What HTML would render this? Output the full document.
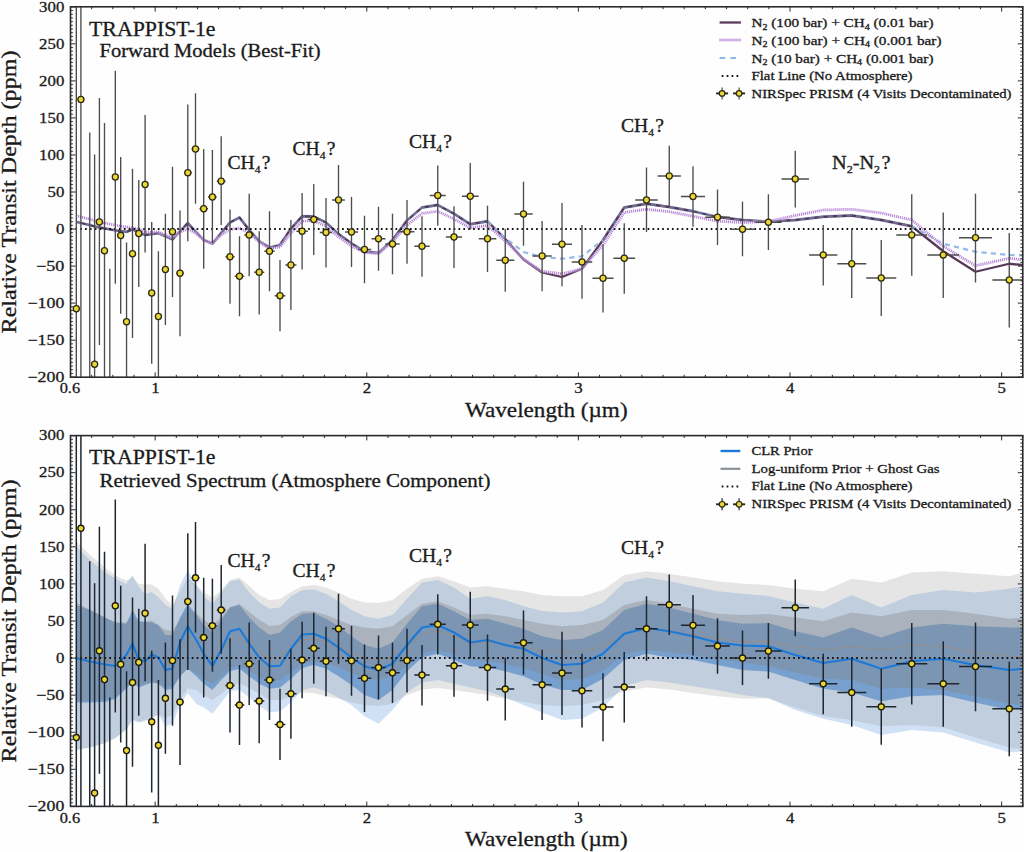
<!DOCTYPE html>
<html><head><meta charset="utf-8"><title>TRAPPIST-1e spectrum</title>
<style>html,body{margin:0;padding:0;background:#fefefe;width:1024px;height:852px;overflow:hidden;font-family:"Liberation Serif",serif}text{stroke:#1a1a1a;stroke-width:.3px}</style></head>
<body>
<svg width="1024" height="852" viewBox="0 0 1024 852" style="position:absolute;left:0;top:0;font-family:'Liberation Serif',serif">
<defs><clipPath id="c1"><rect x="70.5" y="6.8" width="952.3" height="370.4"/></clipPath><clipPath id="c2"><rect x="70.5" y="435.6" width="952.3" height="370.8"/></clipPath></defs>
<rect width="1024" height="852" fill="#fefefe"/>
<g clip-path="url(#c1)">
<path d="M76.3,221.9L80.9,223L89.75,225.2L94.6,226.4L99.4,227.5L104.5,228.4L109.8,229.3L115.3,230.3L120.7,231.25L126.55,231.9L132.5,229.4L138.75,232.2L145.1,235L151.7,234L158.4,233.1L165.4,236.2L172.5,239.4L180,231.3L187.8,223.1L195.5,231.5L203.7,240L212.4,243.75L221.2,233L230,222.5L239.5,217.5L249.2,230L259.2,241.25L269.5,247.5L280,245L290.9,228.75L302.1,216.25L313.75,216.5L326,222.5L338.5,234L351.5,243.5L364.5,251.5L378.5,253L392.5,240L407,220.5L422,207.5L437.75,205L454,213.75L470.25,224.25L487.5,221.25M603,240L624.25,207.5L646.5,203.75L669.25,207L693,211.25L717.5,217L742.5,220L768.4,221.75L795.25,220L823.25,216.75L851.75,215.5L881.25,220L911.75,226.25" fill="none" stroke="#8db7e6" stroke-width="3.4" stroke-linejoin="round" stroke-opacity="0.35"/>
<path d="M76.3,221.9 L80.9,223 L89.75,225.2 L94.6,226.4 L99.4,227.5 L104.5,228.4 L109.8,229.3 L115.3,230.3 L120.7,231.25 L126.55,231.9 L132.5,229.4 L138.75,232.2 L145.1,235 L151.7,234 L158.4,233.1 L165.4,236.2 L172.5,239.4 L180,231.3 L187.8,223.1 L195.5,231.5 L203.7,240 L212.4,243.75 L221.2,233 L230,222.5 L239.5,217.5 L249.2,230 L259.2,241.25 L269.5,247.5 L280,245 L290.9,228.75 L302.1,216.25 L313.75,216.5 L326,222.5 L338.5,234 L351.5,243.5 L364.5,251.5 L378.5,253 L392.5,240 L407,220.5 L422,207.5 L437.75,205 L454,213.75 L470.25,224.25 L487.5,221.25 L505.25,239 L523.5,259.5 L542.1,272.5 L562,277 L582,268.75 L603,240 L624.25,207.5 L646.5,203.75 L669.25,207 L693,211.25 L717.5,217 L742.5,220 L768.4,221.75 L795.25,220 L823.25,216.75 L851.75,215.5 L881.25,220 L911.75,226.25 L943.25,251.25 L975.5,271.75 L1009.25,263.75 L1022.8,265" fill="none" stroke="#573858" stroke-width="2.3" stroke-linejoin="round"/>
<path d="M76.3,221.9L80.9,223L89.75,225.2L94.6,226.4L99.4,227.5L104.5,228.4L109.8,229.3L115.3,230.3L120.7,231.25L126.55,231.9L132.5,229.4L138.75,232.2L145.1,235L151.7,234L158.4,233.1L165.4,236.2L172.5,239.4L180,231.3L187.8,223.1L195.5,231.5L203.7,240L212.4,243.75L221.2,233L230,222.5L239.5,217.5L249.2,230L259.2,241.25L269.5,247.5L280,245L290.9,228.75L302.1,216.25L313.75,216.5L326,222.5L338.5,234L351.5,243.5L364.5,251.5L378.5,253L392.5,240L407,220.5L422,207.5L437.75,205L454,213.75L470.25,224.25L487.5,221.25M603,240L624.25,207.5L646.5,203.75L669.25,207L693,211.25L717.5,217L742.5,220L768.4,221.75L795.25,220L823.25,216.75L851.75,215.5L881.25,220L911.75,226.25" fill="none" stroke="#8db7e6" stroke-width="2.2" stroke-dasharray="5.2 4.2" stroke-linejoin="round" stroke-opacity="0.42"/>
<path d="M487.5,221.25L505.25,238L523.5,252L542.1,257L562,258.75L582,256.25L603,240M911.75,226.25L943.25,243.75L975.5,251.75L1009.25,255L1022.8,255.5" fill="none" stroke="#8db7e6" stroke-width="2.2" stroke-dasharray="5.2 4.2" stroke-linejoin="round" stroke-opacity="0.95"/>
<path d="M76.3,215.6 L99.4,221.9 L120.7,226.25 L138.75,229 L145.1,232 L151.7,232 L158.4,232 L165.4,235 L172.5,237.5 L180,232 L187.8,228.75 L195.5,233 L203.7,240 L212.4,243 L221.2,235 L230,229.5 L239.5,228 L249.2,233 L259.2,242 L269.5,248.5 L280,247 L290.9,233 L302.1,221 L313.75,221 L326,226 L338.5,237 L351.5,246 L364.5,252.5 L378.5,253.5 L392.5,242 L407,225 L422,213.5 L437.75,211.25 L454,219 L470.25,228 L487.5,225.5 L505.25,241 L523.5,259 L542.1,271.25 L562,273.75 L582,268.75 L603,245 L624.25,212.5 L646.5,209.25 L669.25,211.75 L693,216.25 L717.5,221.25 L742.5,222.5 L768.4,221.5 L795.25,215.5 L823.25,210 L851.75,209.25 L881.25,213 L911.75,220 L943.25,246.25 L975.5,265.75 L1009.25,258.25 L1022.8,260" fill="none" stroke="#eadcf4" stroke-width="3" stroke-linejoin="round" stroke-opacity="0.45"/>
<path d="M76.3,215.6 L99.4,221.9 L120.7,226.25 L138.75,229 L145.1,232 L151.7,232 L158.4,232 L165.4,235 L172.5,237.5 L180,232 L187.8,228.75 L195.5,233 L203.7,240 L212.4,243 L221.2,235 L230,229.5 L239.5,228 L249.2,233 L259.2,242 L269.5,248.5 L280,247 L290.9,233 L302.1,221 L313.75,221 L326,226 L338.5,237 L351.5,246 L364.5,252.5 L378.5,253.5 L392.5,242 L407,225 L422,213.5 L437.75,211.25 L454,219 L470.25,228 L487.5,225.5 L505.25,241 L523.5,259 L542.1,271.25 L562,273.75 L582,268.75 L603,245 L624.25,212.5 L646.5,209.25 L669.25,211.75 L693,216.25 L717.5,221.25 L742.5,222.5 L768.4,221.5 L795.25,215.5 L823.25,210 L851.75,209.25 L881.25,213 L911.75,220 L943.25,246.25 L975.5,265.75 L1009.25,258.25 L1022.8,260" fill="none" stroke="#a262cf" stroke-width="2.7" stroke-dasharray="0.85 1.15" stroke-linejoin="round" stroke-opacity="0.9"/>
<path d="M70.5,229.1H1022.8" stroke="#111" stroke-width="2" stroke-dasharray="1.7 3.15"/>
</g>
<g clip-path="url(#c1)" stroke="#4d4d4d" stroke-width="1.35" fill="none"><path d="M76.3,-50V900M74,308.75H78.6M80.9,-50V900M77.54,99.5H84.26M89.75,132.5V900M94.6,154.5V900M92.19,364.25H97.01M99.4,98V345M96.93,222H101.88M104.5,123V900M101.9,250.75H107.1M109.8,268.75V900M115.3,70.75V283.75M112.57,177H118.03M120.7,157V313.75M117.89,235.5H123.51M126.55,242.5V900M123.6,321.75H129.5M132.5,168.75V338M129.45,253.75H135.55M138.75,180V287M135.6,233.5H141.9M145.1,115V252.5M141.86,184.5H148.34M151.7,222V363.75M148.38,293H155.02M158.4,251.25V900M154.97,316.5H161.83M165.4,213.75V325M161.88,269.5H168.93M172.5,166.75V297M168.85,231.75H176.15M180,210.5V336.25M176.18,273.25H183.82M187.8,104.5V241.25M183.93,172.75H191.68M195.5,93.25V203.75M191.53,149H199.47M203.7,149V268.75M199.47,208.75H207.92M212.4,150V243M208.03,197H216.78M221.2,136.25V225M216.8,181.25H225.6M230,209.5V303.75M225.43,256.75H234.57M239.5,236.25V316.25M234.7,276.25H244.3M249.2,193.75V276.25M244.27,235H254.12M259.2,231.25V314.5M254.12,272.25H264.27M269.5,211.25V291.25M264.3,251.25H274.7M280,260V331.25M274.65,295.75H285.35M290.9,220V310M285.38,265H296.42M302.1,193V269.5M296.39,231.25H307.81M313.75,184V255M307.77,219.5H319.73M326,198V267.5M319.81,232.5H332.19M338.5,165V235M332.12,200H344.88M351.5,197V267M345,232H358M364.5,215.75V283.25M357.75,249.5H371.25M378.5,206.75V270.75M371.5,238.75H385.5M392.5,213.75V274.25M385.38,244H399.62M407,200V263.75M399.62,231.75H414.38M422,216.25V276.75M414.31,246.25H429.69M437.75,165.5V225.75M429.75,195.5H445.75M454,206.25V268M445.88,237H462.12M470.25,163V229.5M461.88,196.25H478.62M487.5,205.75V272M478.75,238.75H496.25M505.25,228.75V291.75M496.25,260.25H514.25M523.5,181.75V245.75M514.29,214H532.71M542.1,221V291.25M532.48,256H551.73M562,203V286.25M552.02,244.25H571.98M582,225V298.75M571.75,262H592.25M603,244.5V312.5M592.44,278.25H613.56M624.25,223.25V293.75M613.38,258.25H635.12M646.5,167.5V232M635.25,200H657.75M669.25,145.75V206.25M657.62,176H680.88M693,166.25V226.75M680.94,196.5H705.06M717.5,189.5V245M705.12,217.25H729.88M742.5,201.75V256.25M729.77,229.25H755.23M768.4,194.25V250M755.21,222.25H781.59M795.25,150.75V207.5M781.54,179H808.96M823.25,225V285.5M809.12,255H837.38M851.75,230V298M837.25,263.75H866.25M881.25,240V316M866.25,278H896.25M911.75,194.25V275.75M896.25,235H927.25M943.25,212.5V298M927.31,255H959.19M975.5,193.75V282.5M959,237.75H992M1009.25,233V327.5M992.38,280H1026.12"/></g>
<g clip-path="url(#c1)" fill="#ead637" stroke="#2e2a10" stroke-width="1.3"><circle cx="76.3" cy="308.75" r="3.05"/><circle cx="80.9" cy="99.5" r="3.05"/><circle cx="94.6" cy="364.25" r="3.05"/><circle cx="99.4" cy="222" r="3.05"/><circle cx="104.5" cy="250.75" r="3.05"/><circle cx="115.3" cy="177" r="3.05"/><circle cx="120.7" cy="235.5" r="3.05"/><circle cx="126.55" cy="321.75" r="3.05"/><circle cx="132.5" cy="253.75" r="3.05"/><circle cx="138.75" cy="233.5" r="3.05"/><circle cx="145.1" cy="184.5" r="3.05"/><circle cx="151.7" cy="293" r="3.05"/><circle cx="158.4" cy="316.5" r="3.05"/><circle cx="165.4" cy="269.5" r="3.05"/><circle cx="172.5" cy="231.75" r="3.05"/><circle cx="180" cy="273.25" r="3.05"/><circle cx="187.8" cy="172.75" r="3.05"/><circle cx="195.5" cy="149" r="3.05"/><circle cx="203.7" cy="208.75" r="3.05"/><circle cx="212.4" cy="197" r="3.05"/><circle cx="221.2" cy="181.25" r="3.05"/><circle cx="230" cy="256.75" r="3.05"/><circle cx="239.5" cy="276.25" r="3.05"/><circle cx="249.2" cy="235" r="3.05"/><circle cx="259.2" cy="272.25" r="3.05"/><circle cx="269.5" cy="251.25" r="3.05"/><circle cx="280" cy="295.75" r="3.05"/><circle cx="290.9" cy="265" r="3.05"/><circle cx="302.1" cy="231.25" r="3.05"/><circle cx="313.75" cy="219.5" r="3.05"/><circle cx="326" cy="232.5" r="3.05"/><circle cx="338.5" cy="200" r="3.05"/><circle cx="351.5" cy="232" r="3.05"/><circle cx="364.5" cy="249.5" r="3.05"/><circle cx="378.5" cy="238.75" r="3.05"/><circle cx="392.5" cy="244" r="3.05"/><circle cx="407" cy="231.75" r="3.05"/><circle cx="422" cy="246.25" r="3.05"/><circle cx="437.75" cy="195.5" r="3.05"/><circle cx="454" cy="237" r="3.05"/><circle cx="470.25" cy="196.25" r="3.05"/><circle cx="487.5" cy="238.75" r="3.05"/><circle cx="505.25" cy="260.25" r="3.05"/><circle cx="523.5" cy="214" r="3.05"/><circle cx="542.1" cy="256" r="3.05"/><circle cx="562" cy="244.25" r="3.05"/><circle cx="582" cy="262" r="3.05"/><circle cx="603" cy="278.25" r="3.05"/><circle cx="624.25" cy="258.25" r="3.05"/><circle cx="646.5" cy="200" r="3.05"/><circle cx="669.25" cy="176" r="3.05"/><circle cx="693" cy="196.5" r="3.05"/><circle cx="717.5" cy="217.25" r="3.05"/><circle cx="742.5" cy="229.25" r="3.05"/><circle cx="768.4" cy="222.25" r="3.05"/><circle cx="795.25" cy="179" r="3.05"/><circle cx="823.25" cy="255" r="3.05"/><circle cx="851.75" cy="263.75" r="3.05"/><circle cx="881.25" cy="278" r="3.05"/><circle cx="911.75" cy="235" r="3.05"/><circle cx="943.25" cy="255" r="3.05"/><circle cx="975.5" cy="237.75" r="3.05"/><circle cx="1009.25" cy="280" r="3.05"/></g>
<g clip-path="url(#c2)">
<path d="M76.25,546.25 L90,560 L105,572.5 L115.5,578.75 L126.25,584 L132.5,575 L138.75,587 L145.25,594 L151.75,592 L158.25,597 L165.5,605 L172.5,609 L180,585 L187.75,570.5 L196.25,585 L203.75,596.25 L212.5,603.75 L221.25,592.5 L230,581.25 L239.5,579.5 L249.25,592.5 L259.25,602.5 L269.5,608.75 L280,607.5 L291,596.25 L302.25,590 L313.75,589.5 L326,593.75 L338.5,601.25 L351.5,610 L364.5,616.25 L378.5,618.75 L392.5,615 L407,598.75 L422,582.5 L437.75,580 L454,587.5 L470.25,598.75 L487.5,596.25 L505.25,600 L523.5,606.25 L542.1,611 L562,612.5 L582,611.25 L603,602.5 L624.25,582.5 L646.5,577.5 L669.25,581.25 L693,586.25 L717.5,591.25 L742.5,593.75 L768.4,596 L795.25,602.5 L823.25,608.75 L851.75,595 L881.25,607.5 L911.75,595 L943.25,590 L975.5,592.5 L1009.25,588.75 L1022.8,586.25 L1022.8,751.25 L1009.25,752.5 L975.5,742.5 L943.25,732.5 L911.75,730 L881.25,735 L851.75,725 L823.25,718.75 L795.25,710 L768.4,698 L742.5,695 L717.5,690 L693,686.25 L669.25,682.5 L646.5,680 L624.25,686.25 L603,707.5 L582,718.75 L562,720 L542.1,712.5 L523.5,705 L505.25,697.5 L487.5,691.25 L470.25,687.5 L454,683.75 L437.75,680 L422,682.5 L407,692.5 L392.5,710 L378.5,723.75 L364.5,716.25 L351.5,705 L338.5,697.5 L326,691.25 L313.75,687.5 L302.25,690 L291,702.5 L280,711.25 L269.5,712.5 L259.25,706.25 L249.25,697.5 L239.5,690 L230,691.25 L221.25,702.5 L212.5,713.75 L203.75,707.5 L196.25,703.75 L187.75,693 L180,705 L172.5,723.5 L165.5,726.5 L158.25,714.5 L151.75,718 L145.25,721 L138.75,722.5 L132.5,720 L126.25,729.5 L115.5,738 L105,743 L90,747.5 L76.25,750Z" fill="#1b70d0" fill-opacity="0.2"/>
<path d="M76.25,605 L90,610 L105,617.5 L115.5,622.5 L126.25,623.75 L132.5,610 L138.75,621.25 L145.25,622 L151.75,622.5 L158.25,625 L165.5,635 L172.5,635 L180,617.5 L187.75,603.75 L196.25,615 L203.75,625 L212.5,632.5 L221.25,620 L230,607.5 L239.5,605 L249.25,617.5 L259.25,627.5 L269.5,635 L280,632.5 L291,621.25 L302.25,613.75 L313.75,613 L326,618.75 L338.5,626.25 L351.5,636.25 L364.5,645 L378.5,648.75 L392.5,642.5 L407,623.75 L422,606.25 L437.75,603.75 L454,611.25 L470.25,620 L487.5,618.75 L505.25,623.75 L523.5,628.75 L542.1,636.25 L562,640 L582,638.75 L603,630 L624.25,610 L646.5,603.75 L669.25,607.5 L693,613.75 L717.5,620 L742.5,623.75 L768.4,623 L795.25,631.25 L823.25,637.5 L851.75,627.5 L881.25,637.5 L911.75,627.5 L943.25,623.75 L975.5,626.25 L1009.25,627.5 L1022.8,627.5 L1022.8,707.5 L1009.25,710 L975.5,702.5 L943.25,695 L911.75,696.25 L881.25,701.25 L851.75,692.5 L823.25,688.75 L795.25,680 L768.4,671.5 L742.5,670 L717.5,665 L693,660 L669.25,657.5 L646.5,653.75 L624.25,660 L603,678.75 L582,690 L562,690 L542.1,684.5 L523.5,676.25 L505.25,671.25 L487.5,667.5 L470.25,666.25 L454,660 L437.75,653.75 L422,657.5 L407,671.25 L392.5,690 L378.5,700 L364.5,695 L351.5,685 L338.5,676.25 L326,668.75 L313.75,665 L302.25,668 L291,678.75 L280,687.5 L269.5,688.75 L259.25,683.75 L249.25,676.25 L239.5,668.75 L230,671.25 L221.25,680 L212.5,690 L203.75,683.75 L196.25,676.25 L187.75,668.75 L180,676.25 L172.5,688.75 L165.5,690 L158.25,683.75 L151.75,682.5 L145.25,685 L138.75,687.5 L132.5,682.5 L126.25,688.5 L115.5,698.75 L105,702 L90,702.5 L76.25,702.5Z" fill="#1b70d0" fill-opacity="0.5"/>
<path d="M76.25,541 L90,555 L105,567.5 L115.5,575.5 L126.25,580.5 L132.5,577 L138.75,584 L151.75,584.5 L158.25,588.75 L165.5,598.75 L172.5,605 L180,592 L187.75,578 L196.25,585 L203.75,592 L212.5,598 L221.25,590 L230,580 L239.5,577.5 L249.25,586 L259.25,595 L269.5,600 L280,599 L291,592 L302.25,586.25 L313.75,585 L326,587.5 L338.5,592.5 L351.5,598.75 L364.5,602.5 L378.5,603 L392.5,600 L407,588.75 L422,578.75 L437.75,576.25 L454,581.25 L470.25,587.5 L487.5,586.25 L505.25,588.75 L523.5,591.25 L542.1,595 L562,596.25 L582,596.25 L603,590 L624.25,575 L646.5,571.25 L669.25,573.75 L693,577.5 L717.5,581.25 L742.5,583.75 L768.4,585 L795.25,588.75 L823.25,591.25 L851.75,578.75 L881.25,582.5 L911.75,572.5 L943.25,571.25 L975.5,573.75 L1009.25,576.25 L1022.8,572.5 L1022.8,750 L1009.25,747.5 L975.5,737.5 L943.25,727.5 L911.75,725 L881.25,726.25 L851.75,720 L823.25,716.25 L795.25,707.5 L768.4,698.5 L742.5,698.75 L717.5,696.25 L693,693 L669.25,689.5 L646.5,687.5 L624.25,691.25 L603,700 L582,705 L562,706 L542.1,705 L523.5,702 L505.25,698.75 L487.5,695 L470.25,692.5 L454,690 L437.75,688 L422,689.5 L407,695 L392.5,703.75 L378.5,706 L364.5,705 L351.5,702.5 L338.5,698.75 L326,696.25 L313.75,693 L302.25,692.5 L291,696 L280,700 L269.5,700 L259.25,694 L249.25,688 L239.5,683 L230,686 L221.25,694 L212.5,700 L203.75,695 L196.25,690 L187.75,688 L180,700 L172.5,715 L165.5,718 L158.25,714.5 L151.75,718 L138.75,722 L132.5,719 L126.25,729.5 L115.5,738 L105,743 L90,747.5 L76.25,750Z" fill="#808080" fill-opacity="0.2"/>
<path d="M76.25,602.5 L90,610 L105,617.5 L115.5,622.5 L126.25,622.5 L132.5,616 L138.75,622.5 L151.75,620.6 L158.25,625 L165.5,630 L172.5,631 L180,620 L187.75,608 L196.25,613 L203.75,620 L212.5,625 L221.25,617 L230,607 L239.5,604 L249.25,612 L259.25,620 L269.5,626 L280,625 L291,617 L302.25,611.25 L313.75,611.25 L326,615 L338.5,620 L351.5,625 L364.5,627.5 L378.5,628.75 L392.5,626.25 L407,615 L422,603.75 L437.75,601.25 L454,607.5 L470.25,615 L487.5,613.75 L505.25,616.25 L523.5,620 L542.1,623.75 L562,626.25 L582,625 L603,620 L624.25,605 L646.5,600 L669.25,603.75 L693,608.75 L717.5,613.75 L742.5,615 L768.4,614 L795.25,617.5 L823.25,621.25 L851.75,612.5 L881.25,616.25 L911.75,610 L943.25,610 L975.5,613.75 L1009.25,618.75 L1022.8,617.5 L1022.8,705 L1009.25,703.75 L975.5,696.25 L943.25,690 L911.75,687.5 L881.25,688.75 L851.75,680 L823.25,678.75 L795.25,672.5 L768.4,666 L742.5,662.5 L717.5,659 L693,655 L669.25,652 L646.5,650 L624.25,654 L603,671 L582,679 L562,680 L542.1,674 L523.5,668 L505.25,664 L487.5,661 L470.25,660 L454,655 L437.75,650 L422,654 L407,666 L392.5,676 L378.5,680 L364.5,678 L351.5,673 L338.5,667 L326,663 L313.75,662 L302.25,664 L291,672 L280,680 L269.5,681 L259.25,677 L249.25,671 L239.5,665 L230,668 L221.25,677 L212.5,684 L203.75,679 L196.25,673 L187.75,668 L180,676 L172.5,686 L165.5,687 L158.25,683 L151.75,682 L138.75,686 L132.5,682 L126.25,687.5 L115.5,697 L105,700 L90,701 L76.25,701Z" fill="#808080" fill-opacity="0.35"/>
<path d="M76.25,656 L90,658 L105,660 L115.5,661 L126.25,658 L132.5,653 L138.75,659 L151.75,656 L158.25,658 L165.5,663 L172.5,663 L180,650 L187.75,640 L196.25,646 L203.75,653 L212.5,659 L221.25,650 L230,640 L239.5,637 L249.25,645 L259.25,653 L269.5,658 L280,657 L291,648 L302.25,640 L313.75,639 L326,642 L338.5,647 L351.5,653 L364.5,658 L378.5,660 L392.5,657 L407,646 L422,634 L437.75,631 L454,636 L470.25,643 L487.5,642 L505.25,645 L523.5,648 L542.1,650 L562,652.5 L582,651.25 L603,647 L624.25,634 L646.5,628.5 L669.25,631 L693,634.5 L717.5,638.75 L742.5,641.25 L768.4,641.25 L795.25,646.25 L823.25,650 L851.75,646.25 L881.25,650 L911.75,645 L943.25,646.25 L975.5,652.5 L1009.25,656.25 L1022.8,657" fill="none" stroke="#8b9097" stroke-width="1.5" stroke-linejoin="round"/>
<path d="M76.25,658 L90,661.5 L105,664.5 L115.5,666 L126.25,655 L132.5,643.75 L138.75,660 L145.25,661.25 L151.75,654.5 L158.25,657.5 L165.5,670 L172.5,668.5 L180,642.5 L187.75,626.25 L196.25,640 L203.75,653.75 L212.5,666 L221.25,650 L230,631.25 L239.5,628.75 L249.25,643.75 L259.25,657.5 L269.5,666.25 L280,665.75 L291,648.75 L302.25,634.5 L313.75,633.75 L326,638.75 L338.5,647.5 L351.5,657.5 L364.5,666.25 L378.5,670 L392.5,663.75 L407,645 L422,627.5 L437.75,625 L454,632.5 L470.25,642.5 L487.5,640 L505.25,645 L523.5,648.75 L542.1,658 L562,665 L582,663.75 L603,653.75 L624.25,633.75 L646.5,628 L669.25,631.25 L693,636.25 L717.5,642.5 L742.5,645.5 L768.4,646.25 L795.25,655 L823.25,663 L851.75,658.75 L881.25,668.75 L911.75,661.25 L943.25,658.75 L975.5,665 L1009.25,670 L1022.8,668.75" fill="none" stroke="#1b7ad8" stroke-width="2.1" stroke-linejoin="round"/>
<path d="M70.5,658.1H1022.8" stroke="#111" stroke-width="2" stroke-dasharray="1.7 3.15"/>
</g>
<g clip-path="url(#c2)" stroke="#1e2630" stroke-width="1.5" fill="none"><path d="M76.3,378.8V1328.8M74,737.55H78.6M80.9,378.8V1328.8M77.54,528.3H84.26M89.75,561.3V1328.8M94.6,583.3V1328.8M92.19,793.05H97.01M99.4,526.8V773.8M96.93,650.8H101.88M104.5,551.8V1328.8M101.9,679.55H107.1M109.8,697.55V1328.8M115.3,499.55V712.55M112.57,605.8H118.03M120.7,585.8V742.55M117.89,664.3H123.51M126.55,671.3V1328.8M123.6,750.55H129.5M132.5,597.55V766.8M129.45,682.55H135.55M138.75,608.8V715.8M135.6,662.3H141.9M145.1,543.8V681.3M141.86,613.3H148.34M151.7,650.8V792.55M148.38,721.8H155.02M158.4,680.05V1328.8M154.97,745.3H161.83M165.4,642.55V753.8M161.88,698.3H168.93M172.5,595.55V725.8M168.85,660.55H176.15M180,639.3V765.05M176.18,702.05H183.82M187.8,533.3V670.05M183.93,601.55H191.68M195.5,522.05V632.55M191.53,577.8H199.47M203.7,577.8V697.55M199.47,637.55H207.92M212.4,578.8V671.8M208.03,625.8H216.78M221.2,565.05V653.8M216.8,610.05H225.6M230,638.3V732.55M225.43,685.55H234.57M239.5,665.05V745.05M234.7,705.05H244.3M249.2,622.55V705.05M244.27,663.8H254.12M259.2,660.05V743.3M254.12,701.05H264.27M269.5,640.05V720.05M264.3,680.05H274.7M280,688.8V760.05M274.65,724.55H285.35M290.9,648.8V738.8M285.38,693.8H296.42M302.1,621.8V698.3M296.39,660.05H307.81M313.75,612.8V683.8M307.77,648.3H319.73M326,626.8V696.3M319.81,661.3H332.19M338.5,593.8V663.8M332.12,628.8H344.88M351.5,625.8V695.8M345,660.8H358M364.5,644.55V712.05M357.75,678.3H371.25M378.5,635.55V699.55M371.5,667.55H385.5M392.5,642.55V703.05M385.38,672.8H399.62M407,628.8V692.55M399.62,660.55H414.38M422,645.05V705.55M414.31,675.05H429.69M437.75,594.3V654.55M429.75,624.3H445.75M454,635.05V696.8M445.88,665.8H462.12M470.25,591.8V658.3M461.88,625.05H478.62M487.5,634.55V700.8M478.75,667.55H496.25M505.25,657.55V720.55M496.25,689.05H514.25M523.5,610.55V674.55M514.29,642.8H532.71M542.1,649.8V720.05M532.48,684.8H551.73M562,631.8V715.05M552.02,673.05H571.98M582,653.8V727.55M571.75,690.8H592.25M603,673.3V741.3M592.44,707.05H613.56M624.25,652.05V722.55M613.38,687.05H635.12M646.5,596.3V660.8M635.25,628.8H657.75M669.25,574.55V635.05M657.62,604.8H680.88M693,595.05V655.55M680.94,625.3H705.06M717.5,618.3V673.8M705.12,646.05H729.88M742.5,630.55V685.05M729.77,658.05H755.23M768.4,623.05V678.8M755.21,651.05H781.59M795.25,579.55V636.3M781.54,607.8H808.96M823.25,653.8V714.3M809.12,683.8H837.38M851.75,658.8V726.8M837.25,692.55H866.25M881.25,668.8V744.8M866.25,706.8H896.25M911.75,623.05V704.55M896.25,663.8H927.25M943.25,641.3V726.8M927.31,683.8H959.19M975.5,622.55V711.3M959,666.55H992M1009.25,661.8V756.3M992.38,708.8H1026.12"/></g>
<g clip-path="url(#c2)" fill="#ead637" stroke="#1c1a08" stroke-width="1.3"><circle cx="76.3" cy="737.55" r="3.05"/><circle cx="80.9" cy="528.3" r="3.05"/><circle cx="94.6" cy="793.05" r="3.05"/><circle cx="99.4" cy="650.8" r="3.05"/><circle cx="104.5" cy="679.55" r="3.05"/><circle cx="115.3" cy="605.8" r="3.05"/><circle cx="120.7" cy="664.3" r="3.05"/><circle cx="126.55" cy="750.55" r="3.05"/><circle cx="132.5" cy="682.55" r="3.05"/><circle cx="138.75" cy="662.3" r="3.05"/><circle cx="145.1" cy="613.3" r="3.05"/><circle cx="151.7" cy="721.8" r="3.05"/><circle cx="158.4" cy="745.3" r="3.05"/><circle cx="165.4" cy="698.3" r="3.05"/><circle cx="172.5" cy="660.55" r="3.05"/><circle cx="180" cy="702.05" r="3.05"/><circle cx="187.8" cy="601.55" r="3.05"/><circle cx="195.5" cy="577.8" r="3.05"/><circle cx="203.7" cy="637.55" r="3.05"/><circle cx="212.4" cy="625.8" r="3.05"/><circle cx="221.2" cy="610.05" r="3.05"/><circle cx="230" cy="685.55" r="3.05"/><circle cx="239.5" cy="705.05" r="3.05"/><circle cx="249.2" cy="663.8" r="3.05"/><circle cx="259.2" cy="701.05" r="3.05"/><circle cx="269.5" cy="680.05" r="3.05"/><circle cx="280" cy="724.55" r="3.05"/><circle cx="290.9" cy="693.8" r="3.05"/><circle cx="302.1" cy="660.05" r="3.05"/><circle cx="313.75" cy="648.3" r="3.05"/><circle cx="326" cy="661.3" r="3.05"/><circle cx="338.5" cy="628.8" r="3.05"/><circle cx="351.5" cy="660.8" r="3.05"/><circle cx="364.5" cy="678.3" r="3.05"/><circle cx="378.5" cy="667.55" r="3.05"/><circle cx="392.5" cy="672.8" r="3.05"/><circle cx="407" cy="660.55" r="3.05"/><circle cx="422" cy="675.05" r="3.05"/><circle cx="437.75" cy="624.3" r="3.05"/><circle cx="454" cy="665.8" r="3.05"/><circle cx="470.25" cy="625.05" r="3.05"/><circle cx="487.5" cy="667.55" r="3.05"/><circle cx="505.25" cy="689.05" r="3.05"/><circle cx="523.5" cy="642.8" r="3.05"/><circle cx="542.1" cy="684.8" r="3.05"/><circle cx="562" cy="673.05" r="3.05"/><circle cx="582" cy="690.8" r="3.05"/><circle cx="603" cy="707.05" r="3.05"/><circle cx="624.25" cy="687.05" r="3.05"/><circle cx="646.5" cy="628.8" r="3.05"/><circle cx="669.25" cy="604.8" r="3.05"/><circle cx="693" cy="625.3" r="3.05"/><circle cx="717.5" cy="646.05" r="3.05"/><circle cx="742.5" cy="658.05" r="3.05"/><circle cx="768.4" cy="651.05" r="3.05"/><circle cx="795.25" cy="607.8" r="3.05"/><circle cx="823.25" cy="683.8" r="3.05"/><circle cx="851.75" cy="692.55" r="3.05"/><circle cx="881.25" cy="706.8" r="3.05"/><circle cx="911.75" cy="663.8" r="3.05"/><circle cx="943.25" cy="683.8" r="3.05"/><circle cx="975.5" cy="666.55" r="3.05"/><circle cx="1009.25" cy="708.8" r="3.05"/></g>
<path d="M70.5,377.2h5M1022.8,377.2h-5M70.5,373.5h2.4M1022.8,373.5h-2.4M70.5,369.79h2.4M1022.8,369.79h-2.4M70.5,366.09h2.4M1022.8,366.09h-2.4M70.5,362.38h2.4M1022.8,362.38h-2.4M70.5,358.68h2.4M1022.8,358.68h-2.4M70.5,354.98h2.4M1022.8,354.98h-2.4M70.5,351.27h2.4M1022.8,351.27h-2.4M70.5,347.57h2.4M1022.8,347.57h-2.4M70.5,343.86h2.4M1022.8,343.86h-2.4M70.5,340.16h5M1022.8,340.16h-5M70.5,336.46h2.4M1022.8,336.46h-2.4M70.5,332.75h2.4M1022.8,332.75h-2.4M70.5,329.05h2.4M1022.8,329.05h-2.4M70.5,325.34h2.4M1022.8,325.34h-2.4M70.5,321.64h2.4M1022.8,321.64h-2.4M70.5,317.94h2.4M1022.8,317.94h-2.4M70.5,314.23h2.4M1022.8,314.23h-2.4M70.5,310.53h2.4M1022.8,310.53h-2.4M70.5,306.82h2.4M1022.8,306.82h-2.4M70.5,303.12h5M1022.8,303.12h-5M70.5,299.42h2.4M1022.8,299.42h-2.4M70.5,295.71h2.4M1022.8,295.71h-2.4M70.5,292.01h2.4M1022.8,292.01h-2.4M70.5,288.3h2.4M1022.8,288.3h-2.4M70.5,284.6h2.4M1022.8,284.6h-2.4M70.5,280.9h2.4M1022.8,280.9h-2.4M70.5,277.19h2.4M1022.8,277.19h-2.4M70.5,273.49h2.4M1022.8,273.49h-2.4M70.5,269.78h2.4M1022.8,269.78h-2.4M70.5,266.08h5M1022.8,266.08h-5M70.5,262.38h2.4M1022.8,262.38h-2.4M70.5,258.67h2.4M1022.8,258.67h-2.4M70.5,254.97h2.4M1022.8,254.97h-2.4M70.5,251.26h2.4M1022.8,251.26h-2.4M70.5,247.56h2.4M1022.8,247.56h-2.4M70.5,243.86h2.4M1022.8,243.86h-2.4M70.5,240.15h2.4M1022.8,240.15h-2.4M70.5,236.45h2.4M1022.8,236.45h-2.4M70.5,232.74h2.4M1022.8,232.74h-2.4M70.5,229.04h5M1022.8,229.04h-5M70.5,225.34h2.4M1022.8,225.34h-2.4M70.5,221.63h2.4M1022.8,221.63h-2.4M70.5,217.93h2.4M1022.8,217.93h-2.4M70.5,214.22h2.4M1022.8,214.22h-2.4M70.5,210.52h2.4M1022.8,210.52h-2.4M70.5,206.82h2.4M1022.8,206.82h-2.4M70.5,203.11h2.4M1022.8,203.11h-2.4M70.5,199.41h2.4M1022.8,199.41h-2.4M70.5,195.7h2.4M1022.8,195.7h-2.4M70.5,192h5M1022.8,192h-5M70.5,188.3h2.4M1022.8,188.3h-2.4M70.5,184.59h2.4M1022.8,184.59h-2.4M70.5,180.89h2.4M1022.8,180.89h-2.4M70.5,177.18h2.4M1022.8,177.18h-2.4M70.5,173.48h2.4M1022.8,173.48h-2.4M70.5,169.78h2.4M1022.8,169.78h-2.4M70.5,166.07h2.4M1022.8,166.07h-2.4M70.5,162.37h2.4M1022.8,162.37h-2.4M70.5,158.66h2.4M1022.8,158.66h-2.4M70.5,154.96h5M1022.8,154.96h-5M70.5,151.26h2.4M1022.8,151.26h-2.4M70.5,147.55h2.4M1022.8,147.55h-2.4M70.5,143.85h2.4M1022.8,143.85h-2.4M70.5,140.14h2.4M1022.8,140.14h-2.4M70.5,136.44h2.4M1022.8,136.44h-2.4M70.5,132.74h2.4M1022.8,132.74h-2.4M70.5,129.03h2.4M1022.8,129.03h-2.4M70.5,125.33h2.4M1022.8,125.33h-2.4M70.5,121.62h2.4M1022.8,121.62h-2.4M70.5,117.92h5M1022.8,117.92h-5M70.5,114.22h2.4M1022.8,114.22h-2.4M70.5,110.51h2.4M1022.8,110.51h-2.4M70.5,106.81h2.4M1022.8,106.81h-2.4M70.5,103.1h2.4M1022.8,103.1h-2.4M70.5,99.4h2.4M1022.8,99.4h-2.4M70.5,95.7h2.4M1022.8,95.7h-2.4M70.5,91.99h2.4M1022.8,91.99h-2.4M70.5,88.29h2.4M1022.8,88.29h-2.4M70.5,84.58h2.4M1022.8,84.58h-2.4M70.5,80.88h5M1022.8,80.88h-5M70.5,77.18h2.4M1022.8,77.18h-2.4M70.5,73.47h2.4M1022.8,73.47h-2.4M70.5,69.77h2.4M1022.8,69.77h-2.4M70.5,66.06h2.4M1022.8,66.06h-2.4M70.5,62.36h2.4M1022.8,62.36h-2.4M70.5,58.66h2.4M1022.8,58.66h-2.4M70.5,54.95h2.4M1022.8,54.95h-2.4M70.5,51.25h2.4M1022.8,51.25h-2.4M70.5,47.54h2.4M1022.8,47.54h-2.4M70.5,43.84h5M1022.8,43.84h-5M70.5,40.14h2.4M1022.8,40.14h-2.4M70.5,36.43h2.4M1022.8,36.43h-2.4M70.5,32.73h2.4M1022.8,32.73h-2.4M70.5,29.02h2.4M1022.8,29.02h-2.4M70.5,25.32h2.4M1022.8,25.32h-2.4M70.5,21.62h2.4M1022.8,21.62h-2.4M70.5,17.91h2.4M1022.8,17.91h-2.4M70.5,14.21h2.4M1022.8,14.21h-2.4M70.5,10.5h2.4M1022.8,10.5h-2.4M70.5,6.8h5M1022.8,6.8h-5M70.5,377.2v-2.4M70.5,6.8v2.4M91.66,377.2v-2.4M91.66,6.8v2.4M112.82,377.2v-2.4M112.82,6.8v2.4M133.99,377.2v-2.4M133.99,6.8v2.4M155.15,377.2v-4.8M155.15,6.8v4.8M176.31,377.2v-2.4M176.31,6.8v2.4M197.47,377.2v-2.4M197.47,6.8v2.4M218.64,377.2v-2.4M218.64,6.8v2.4M239.8,377.2v-2.4M239.8,6.8v2.4M260.96,377.2v-2.4M260.96,6.8v2.4M282.12,377.2v-2.4M282.12,6.8v2.4M303.28,377.2v-2.4M303.28,6.8v2.4M324.45,377.2v-2.4M324.45,6.8v2.4M345.61,377.2v-2.4M345.61,6.8v2.4M366.77,377.2v-4.8M366.77,6.8v4.8M387.93,377.2v-2.4M387.93,6.8v2.4M409.1,377.2v-2.4M409.1,6.8v2.4M430.26,377.2v-2.4M430.26,6.8v2.4M451.42,377.2v-2.4M451.42,6.8v2.4M472.58,377.2v-2.4M472.58,6.8v2.4M493.74,377.2v-2.4M493.74,6.8v2.4M514.91,377.2v-2.4M514.91,6.8v2.4M536.07,377.2v-2.4M536.07,6.8v2.4M557.23,377.2v-2.4M557.23,6.8v2.4M578.39,377.2v-4.8M578.39,6.8v4.8M599.56,377.2v-2.4M599.56,6.8v2.4M620.72,377.2v-2.4M620.72,6.8v2.4M641.88,377.2v-2.4M641.88,6.8v2.4M663.04,377.2v-2.4M663.04,6.8v2.4M684.2,377.2v-2.4M684.2,6.8v2.4M705.37,377.2v-2.4M705.37,6.8v2.4M726.53,377.2v-2.4M726.53,6.8v2.4M747.69,377.2v-2.4M747.69,6.8v2.4M768.85,377.2v-2.4M768.85,6.8v2.4M790.02,377.2v-4.8M790.02,6.8v4.8M811.18,377.2v-2.4M811.18,6.8v2.4M832.34,377.2v-2.4M832.34,6.8v2.4M853.5,377.2v-2.4M853.5,6.8v2.4M874.66,377.2v-2.4M874.66,6.8v2.4M895.83,377.2v-2.4M895.83,6.8v2.4M916.99,377.2v-2.4M916.99,6.8v2.4M938.15,377.2v-2.4M938.15,6.8v2.4M959.31,377.2v-2.4M959.31,6.8v2.4M980.48,377.2v-2.4M980.48,6.8v2.4M1001.64,377.2v-4.8M1001.64,6.8v4.8M1022.8,377.2v-2.4M1022.8,6.8v2.4" stroke="#2a2a2a" stroke-width="1" fill="none"/><rect x="70.5" y="6.8" width="952.3" height="370.4" fill="none" stroke="#2a2a2a" stroke-width="1.6"/><g font-size="14.6" fill="#1a1a1a"><text x="64.3" y="382" text-anchor="end" textLength="36.7" lengthAdjust="spacingAndGlyphs">−200</text><text x="64.3" y="344.96" text-anchor="end" textLength="36.7" lengthAdjust="spacingAndGlyphs">−150</text><text x="64.3" y="307.92" text-anchor="end" textLength="36.7" lengthAdjust="spacingAndGlyphs">−100</text><text x="64.3" y="270.88" text-anchor="end" textLength="28.3" lengthAdjust="spacingAndGlyphs">−50</text><text x="64.3" y="233.84" text-anchor="end" textLength="8.4" lengthAdjust="spacingAndGlyphs">0</text><text x="64.3" y="196.8" text-anchor="end" textLength="16.8" lengthAdjust="spacingAndGlyphs">50</text><text x="64.3" y="159.76" text-anchor="end" textLength="25.2" lengthAdjust="spacingAndGlyphs">100</text><text x="64.3" y="122.72" text-anchor="end" textLength="25.2" lengthAdjust="spacingAndGlyphs">150</text><text x="64.3" y="85.68" text-anchor="end" textLength="25.2" lengthAdjust="spacingAndGlyphs">200</text><text x="64.3" y="48.64" text-anchor="end" textLength="25.2" lengthAdjust="spacingAndGlyphs">250</text><text x="64.3" y="11.6" text-anchor="end" textLength="25.2" lengthAdjust="spacingAndGlyphs">300</text><text x="69.9" y="393.3" text-anchor="middle" textLength="20.5" lengthAdjust="spacingAndGlyphs">0.6</text><text x="155.35" y="393.3" text-anchor="middle" textLength="8.4" lengthAdjust="spacingAndGlyphs">1</text><text x="366.97" y="393.3" text-anchor="middle" textLength="8.4" lengthAdjust="spacingAndGlyphs">2</text><text x="578.59" y="393.3" text-anchor="middle" textLength="8.4" lengthAdjust="spacingAndGlyphs">3</text><text x="790.22" y="393.3" text-anchor="middle" textLength="8.4" lengthAdjust="spacingAndGlyphs">4</text><text x="1001.84" y="393.3" text-anchor="middle" textLength="8.4" lengthAdjust="spacingAndGlyphs">5</text></g><text x="546.3" y="417" font-size="21" fill="#1a1a1a" text-anchor="middle" textLength="162.6" lengthAdjust="spacingAndGlyphs">Wavelength (µm)</text><text transform="translate(16.2,192) rotate(-90)" font-size="20" fill="#1a1a1a" text-anchor="middle" textLength="282.8" lengthAdjust="spacingAndGlyphs">Relative Transit Depth (ppm)</text>
<path d="M70.5,806.4h5M1022.8,806.4h-5M70.5,802.69h2.4M1022.8,802.69h-2.4M70.5,798.98h2.4M1022.8,798.98h-2.4M70.5,795.28h2.4M1022.8,795.28h-2.4M70.5,791.57h2.4M1022.8,791.57h-2.4M70.5,787.86h2.4M1022.8,787.86h-2.4M70.5,784.15h2.4M1022.8,784.15h-2.4M70.5,780.44h2.4M1022.8,780.44h-2.4M70.5,776.74h2.4M1022.8,776.74h-2.4M70.5,773.03h2.4M1022.8,773.03h-2.4M70.5,769.32h5M1022.8,769.32h-5M70.5,765.61h2.4M1022.8,765.61h-2.4M70.5,761.9h2.4M1022.8,761.9h-2.4M70.5,758.2h2.4M1022.8,758.2h-2.4M70.5,754.49h2.4M1022.8,754.49h-2.4M70.5,750.78h2.4M1022.8,750.78h-2.4M70.5,747.07h2.4M1022.8,747.07h-2.4M70.5,743.36h2.4M1022.8,743.36h-2.4M70.5,739.66h2.4M1022.8,739.66h-2.4M70.5,735.95h2.4M1022.8,735.95h-2.4M70.5,732.24h5M1022.8,732.24h-5M70.5,728.53h2.4M1022.8,728.53h-2.4M70.5,724.82h2.4M1022.8,724.82h-2.4M70.5,721.12h2.4M1022.8,721.12h-2.4M70.5,717.41h2.4M1022.8,717.41h-2.4M70.5,713.7h2.4M1022.8,713.7h-2.4M70.5,709.99h2.4M1022.8,709.99h-2.4M70.5,706.28h2.4M1022.8,706.28h-2.4M70.5,702.58h2.4M1022.8,702.58h-2.4M70.5,698.87h2.4M1022.8,698.87h-2.4M70.5,695.16h5M1022.8,695.16h-5M70.5,691.45h2.4M1022.8,691.45h-2.4M70.5,687.74h2.4M1022.8,687.74h-2.4M70.5,684.04h2.4M1022.8,684.04h-2.4M70.5,680.33h2.4M1022.8,680.33h-2.4M70.5,676.62h2.4M1022.8,676.62h-2.4M70.5,672.91h2.4M1022.8,672.91h-2.4M70.5,669.2h2.4M1022.8,669.2h-2.4M70.5,665.5h2.4M1022.8,665.5h-2.4M70.5,661.79h2.4M1022.8,661.79h-2.4M70.5,658.08h5M1022.8,658.08h-5M70.5,654.37h2.4M1022.8,654.37h-2.4M70.5,650.66h2.4M1022.8,650.66h-2.4M70.5,646.96h2.4M1022.8,646.96h-2.4M70.5,643.25h2.4M1022.8,643.25h-2.4M70.5,639.54h2.4M1022.8,639.54h-2.4M70.5,635.83h2.4M1022.8,635.83h-2.4M70.5,632.12h2.4M1022.8,632.12h-2.4M70.5,628.42h2.4M1022.8,628.42h-2.4M70.5,624.71h2.4M1022.8,624.71h-2.4M70.5,621h5M1022.8,621h-5M70.5,617.29h2.4M1022.8,617.29h-2.4M70.5,613.58h2.4M1022.8,613.58h-2.4M70.5,609.88h2.4M1022.8,609.88h-2.4M70.5,606.17h2.4M1022.8,606.17h-2.4M70.5,602.46h2.4M1022.8,602.46h-2.4M70.5,598.75h2.4M1022.8,598.75h-2.4M70.5,595.04h2.4M1022.8,595.04h-2.4M70.5,591.34h2.4M1022.8,591.34h-2.4M70.5,587.63h2.4M1022.8,587.63h-2.4M70.5,583.92h5M1022.8,583.92h-5M70.5,580.21h2.4M1022.8,580.21h-2.4M70.5,576.5h2.4M1022.8,576.5h-2.4M70.5,572.8h2.4M1022.8,572.8h-2.4M70.5,569.09h2.4M1022.8,569.09h-2.4M70.5,565.38h2.4M1022.8,565.38h-2.4M70.5,561.67h2.4M1022.8,561.67h-2.4M70.5,557.96h2.4M1022.8,557.96h-2.4M70.5,554.26h2.4M1022.8,554.26h-2.4M70.5,550.55h2.4M1022.8,550.55h-2.4M70.5,546.84h5M1022.8,546.84h-5M70.5,543.13h2.4M1022.8,543.13h-2.4M70.5,539.42h2.4M1022.8,539.42h-2.4M70.5,535.72h2.4M1022.8,535.72h-2.4M70.5,532.01h2.4M1022.8,532.01h-2.4M70.5,528.3h2.4M1022.8,528.3h-2.4M70.5,524.59h2.4M1022.8,524.59h-2.4M70.5,520.88h2.4M1022.8,520.88h-2.4M70.5,517.18h2.4M1022.8,517.18h-2.4M70.5,513.47h2.4M1022.8,513.47h-2.4M70.5,509.76h5M1022.8,509.76h-5M70.5,506.05h2.4M1022.8,506.05h-2.4M70.5,502.34h2.4M1022.8,502.34h-2.4M70.5,498.64h2.4M1022.8,498.64h-2.4M70.5,494.93h2.4M1022.8,494.93h-2.4M70.5,491.22h2.4M1022.8,491.22h-2.4M70.5,487.51h2.4M1022.8,487.51h-2.4M70.5,483.8h2.4M1022.8,483.8h-2.4M70.5,480.1h2.4M1022.8,480.1h-2.4M70.5,476.39h2.4M1022.8,476.39h-2.4M70.5,472.68h5M1022.8,472.68h-5M70.5,468.97h2.4M1022.8,468.97h-2.4M70.5,465.26h2.4M1022.8,465.26h-2.4M70.5,461.56h2.4M1022.8,461.56h-2.4M70.5,457.85h2.4M1022.8,457.85h-2.4M70.5,454.14h2.4M1022.8,454.14h-2.4M70.5,450.43h2.4M1022.8,450.43h-2.4M70.5,446.72h2.4M1022.8,446.72h-2.4M70.5,443.02h2.4M1022.8,443.02h-2.4M70.5,439.31h2.4M1022.8,439.31h-2.4M70.5,435.6h5M1022.8,435.6h-5M70.5,806.4v-2.4M70.5,435.6v2.4M91.66,806.4v-2.4M91.66,435.6v2.4M112.82,806.4v-2.4M112.82,435.6v2.4M133.99,806.4v-2.4M133.99,435.6v2.4M155.15,806.4v-4.8M155.15,435.6v4.8M176.31,806.4v-2.4M176.31,435.6v2.4M197.47,806.4v-2.4M197.47,435.6v2.4M218.64,806.4v-2.4M218.64,435.6v2.4M239.8,806.4v-2.4M239.8,435.6v2.4M260.96,806.4v-2.4M260.96,435.6v2.4M282.12,806.4v-2.4M282.12,435.6v2.4M303.28,806.4v-2.4M303.28,435.6v2.4M324.45,806.4v-2.4M324.45,435.6v2.4M345.61,806.4v-2.4M345.61,435.6v2.4M366.77,806.4v-4.8M366.77,435.6v4.8M387.93,806.4v-2.4M387.93,435.6v2.4M409.1,806.4v-2.4M409.1,435.6v2.4M430.26,806.4v-2.4M430.26,435.6v2.4M451.42,806.4v-2.4M451.42,435.6v2.4M472.58,806.4v-2.4M472.58,435.6v2.4M493.74,806.4v-2.4M493.74,435.6v2.4M514.91,806.4v-2.4M514.91,435.6v2.4M536.07,806.4v-2.4M536.07,435.6v2.4M557.23,806.4v-2.4M557.23,435.6v2.4M578.39,806.4v-4.8M578.39,435.6v4.8M599.56,806.4v-2.4M599.56,435.6v2.4M620.72,806.4v-2.4M620.72,435.6v2.4M641.88,806.4v-2.4M641.88,435.6v2.4M663.04,806.4v-2.4M663.04,435.6v2.4M684.2,806.4v-2.4M684.2,435.6v2.4M705.37,806.4v-2.4M705.37,435.6v2.4M726.53,806.4v-2.4M726.53,435.6v2.4M747.69,806.4v-2.4M747.69,435.6v2.4M768.85,806.4v-2.4M768.85,435.6v2.4M790.02,806.4v-4.8M790.02,435.6v4.8M811.18,806.4v-2.4M811.18,435.6v2.4M832.34,806.4v-2.4M832.34,435.6v2.4M853.5,806.4v-2.4M853.5,435.6v2.4M874.66,806.4v-2.4M874.66,435.6v2.4M895.83,806.4v-2.4M895.83,435.6v2.4M916.99,806.4v-2.4M916.99,435.6v2.4M938.15,806.4v-2.4M938.15,435.6v2.4M959.31,806.4v-2.4M959.31,435.6v2.4M980.48,806.4v-2.4M980.48,435.6v2.4M1001.64,806.4v-4.8M1001.64,435.6v4.8M1022.8,806.4v-2.4M1022.8,435.6v2.4" stroke="#2a2a2a" stroke-width="1" fill="none"/><rect x="70.5" y="435.6" width="952.3" height="370.8" fill="none" stroke="#2a2a2a" stroke-width="1.6"/><g font-size="14.6" fill="#1a1a1a"><text x="64.3" y="811.2" text-anchor="end" textLength="36.7" lengthAdjust="spacingAndGlyphs">−200</text><text x="64.3" y="774.12" text-anchor="end" textLength="36.7" lengthAdjust="spacingAndGlyphs">−150</text><text x="64.3" y="737.04" text-anchor="end" textLength="36.7" lengthAdjust="spacingAndGlyphs">−100</text><text x="64.3" y="699.96" text-anchor="end" textLength="28.3" lengthAdjust="spacingAndGlyphs">−50</text><text x="64.3" y="662.88" text-anchor="end" textLength="8.4" lengthAdjust="spacingAndGlyphs">0</text><text x="64.3" y="625.8" text-anchor="end" textLength="16.8" lengthAdjust="spacingAndGlyphs">50</text><text x="64.3" y="588.72" text-anchor="end" textLength="25.2" lengthAdjust="spacingAndGlyphs">100</text><text x="64.3" y="551.64" text-anchor="end" textLength="25.2" lengthAdjust="spacingAndGlyphs">150</text><text x="64.3" y="514.56" text-anchor="end" textLength="25.2" lengthAdjust="spacingAndGlyphs">200</text><text x="64.3" y="477.48" text-anchor="end" textLength="25.2" lengthAdjust="spacingAndGlyphs">250</text><text x="64.3" y="440.4" text-anchor="end" textLength="25.2" lengthAdjust="spacingAndGlyphs">300</text><text x="69.9" y="822.5" text-anchor="middle" textLength="20.5" lengthAdjust="spacingAndGlyphs">0.6</text><text x="155.35" y="822.5" text-anchor="middle" textLength="8.4" lengthAdjust="spacingAndGlyphs">1</text><text x="366.97" y="822.5" text-anchor="middle" textLength="8.4" lengthAdjust="spacingAndGlyphs">2</text><text x="578.59" y="822.5" text-anchor="middle" textLength="8.4" lengthAdjust="spacingAndGlyphs">3</text><text x="790.22" y="822.5" text-anchor="middle" textLength="8.4" lengthAdjust="spacingAndGlyphs">4</text><text x="1001.84" y="822.5" text-anchor="middle" textLength="8.4" lengthAdjust="spacingAndGlyphs">5</text></g><text x="546.3" y="846.2" font-size="21" fill="#1a1a1a" text-anchor="middle" textLength="162.6" lengthAdjust="spacingAndGlyphs">Wavelength (µm)</text><text transform="translate(16.2,621) rotate(-90)" font-size="20" fill="#1a1a1a" text-anchor="middle" textLength="282.8" lengthAdjust="spacingAndGlyphs">Relative Transit Depth (ppm)</text>
<text x="89" y="35.6" font-size="20" fill="#1a1a1a" textLength="126.5" lengthAdjust="spacingAndGlyphs">TRAPPIST-1e</text>
<text x="99.5" y="56.7" font-size="18" fill="#1a1a1a" textLength="221" lengthAdjust="spacingAndGlyphs">Forward Models (Best-Fit)</text>
<text x="227.5" y="168.5" font-size="17.8" fill="#222" textLength="43" lengthAdjust="spacingAndGlyphs">CH<tspan font-size="10.5" dy="4.4">4</tspan><tspan dy="-4.4" dx="1.2">?</tspan></text>
<text x="292.5" y="154.5" font-size="17.8" fill="#222" textLength="43" lengthAdjust="spacingAndGlyphs">CH<tspan font-size="10.5" dy="4.4">4</tspan><tspan dy="-4.4" dx="1.2">?</tspan></text>
<text x="409" y="147.5" font-size="17.8" fill="#222" textLength="43" lengthAdjust="spacingAndGlyphs">CH<tspan font-size="10.5" dy="4.4">4</tspan><tspan dy="-4.4" dx="1.2">?</tspan></text>
<text x="621" y="132" font-size="17.8" fill="#222" textLength="43" lengthAdjust="spacingAndGlyphs">CH<tspan font-size="10.5" dy="4.4">4</tspan><tspan dy="-4.4" dx="1.2">?</tspan></text>
<text x="832" y="169" font-size="17.8" fill="#222" textLength="58.5" lengthAdjust="spacingAndGlyphs">N<tspan font-size="10.5" dy="4.4">2</tspan><tspan dy="-4.4">-N</tspan><tspan font-size="10.5" dy="4.4">2</tspan><tspan dy="-4.4" dx="1.2">?</tspan></text>
<text x="89" y="464.4" font-size="20" fill="#1a1a1a" textLength="126.5" lengthAdjust="spacingAndGlyphs">TRAPPIST-1e</text>
<text x="99.5" y="487" font-size="18" fill="#1a1a1a" textLength="391" lengthAdjust="spacingAndGlyphs">Retrieved Spectrum (Atmosphere Component)</text>
<text x="227.5" y="567" font-size="17.8" fill="#222" textLength="43" lengthAdjust="spacingAndGlyphs">CH<tspan font-size="10.5" dy="4.4">4</tspan><tspan dy="-4.4" dx="1.2">?</tspan></text>
<text x="292.5" y="576.5" font-size="17.8" fill="#222" textLength="43" lengthAdjust="spacingAndGlyphs">CH<tspan font-size="10.5" dy="4.4">4</tspan><tspan dy="-4.4" dx="1.2">?</tspan></text>
<text x="409" y="561.5" font-size="17.8" fill="#222" textLength="43" lengthAdjust="spacingAndGlyphs">CH<tspan font-size="10.5" dy="4.4">4</tspan><tspan dy="-4.4" dx="1.2">?</tspan></text>
<text x="621" y="553.5" font-size="17.8" fill="#222" textLength="43" lengthAdjust="spacingAndGlyphs">CH<tspan font-size="10.5" dy="4.4">4</tspan><tspan dy="-4.4" dx="1.2">?</tspan></text>
<g font-size="12.2" fill="#1a1a1a">
<path d="M719.6,22.5H740.9" stroke="#5a3a5a" stroke-width="2.3"/>
<path d="M719.6,40H740.9" stroke="#eadcf4" stroke-opacity="0.45" stroke-width="3"/><path d="M719.6,40H740.9" stroke="#9b5cc8" stroke-width="2.7" stroke-dasharray="0.85 1.15"/>
<path d="M719.6,58H737" stroke="#8db7e6" stroke-width="2.2" stroke-dasharray="5.6 5.2"/>
<path d="M721.7,76H738.5" stroke="#111" stroke-width="2" stroke-dasharray="1.7 3.25"/>
<path d="M722.1,87.4v12" stroke="#4d4d4d" stroke-width="1.2"/><path d="M716.1,93.4h12" stroke="#222" stroke-width="1.9"/><circle cx="722.1" cy="93.4" r="2.8" fill="#ead637" stroke="#2a2610" stroke-width="1.2"/>
<path d="M739.1,87.4v12" stroke="#4d4d4d" stroke-width="1.2"/><path d="M733.1,93.4h12" stroke="#222" stroke-width="1.9"/><circle cx="739.1" cy="93.4" r="2.8" fill="#ead637" stroke="#2a2610" stroke-width="1.2"/>
<text x="751.5" y="27" textLength="182" lengthAdjust="spacingAndGlyphs">N<tspan font-size="8" dy="2.6">2</tspan><tspan dy="-2.6" font-size="12.2"> (100 bar) + CH</tspan><tspan font-size="8" dy="2.6">4</tspan><tspan dy="-2.6" font-size="12.2"> (0.01 bar)</tspan></text>
<text x="751.5" y="44.5" textLength="190" lengthAdjust="spacingAndGlyphs">N<tspan font-size="8" dy="2.6">2</tspan><tspan dy="-2.6" font-size="12.2"> (100 bar) + CH</tspan><tspan font-size="8" dy="2.6">4</tspan><tspan dy="-2.6" font-size="12.2"> (0.001 bar)</tspan></text>
<text x="751.5" y="62.5" textLength="182" lengthAdjust="spacingAndGlyphs">N<tspan font-size="8" dy="2.6">2</tspan><tspan dy="-2.6" font-size="12.2"> (10 bar) + CH</tspan><tspan font-size="8" dy="2.6">4</tspan><tspan dy="-2.6" font-size="12.2"> (0.001 bar)</tspan></text>
<text x="751.5" y="80.1" textLength="161" lengthAdjust="spacingAndGlyphs">Flat Line (No Atmosphere)</text>
<text x="751.5" y="97.5" textLength="260" lengthAdjust="spacingAndGlyphs">NIRSpec PRISM (4 Visits Decontaminated)</text>
<path d="M720.5,451H740.3" stroke="#1b7ad8" stroke-width="2.4"/>
<path d="M720.5,468.8H740.3" stroke="#8b9097" stroke-width="2.2"/>
<path d="M721.7,486.6H738.5" stroke="#111" stroke-width="2" stroke-dasharray="1.7 3.25"/>
<path d="M722.1,498.3v12" stroke="#1e2630" stroke-width="1.2"/><path d="M716.1,504.3h12" stroke="#222" stroke-width="1.9"/><circle cx="722.1" cy="504.3" r="2.8" fill="#ead637" stroke="#2a2610" stroke-width="1.2"/>
<path d="M739.1,498.3v12" stroke="#1e2630" stroke-width="1.2"/><path d="M733.1,504.3h12" stroke="#222" stroke-width="1.9"/><circle cx="739.1" cy="504.3" r="2.8" fill="#ead637" stroke="#2a2610" stroke-width="1.2"/>
<text x="751.5" y="455.2" textLength="61" lengthAdjust="spacingAndGlyphs">CLR Prior</text>
<text x="751.5" y="473" textLength="188" lengthAdjust="spacingAndGlyphs">Log-uniform Prior + Ghost Gas</text>
<text x="751.5" y="490.4" textLength="161" lengthAdjust="spacingAndGlyphs">Flat Line (No Atmosphere)</text>
<text x="751.5" y="508.1" textLength="260" lengthAdjust="spacingAndGlyphs">NIRSpec PRISM (4 Visits Decontaminated)</text>
</g>
</svg>
</body></html>
